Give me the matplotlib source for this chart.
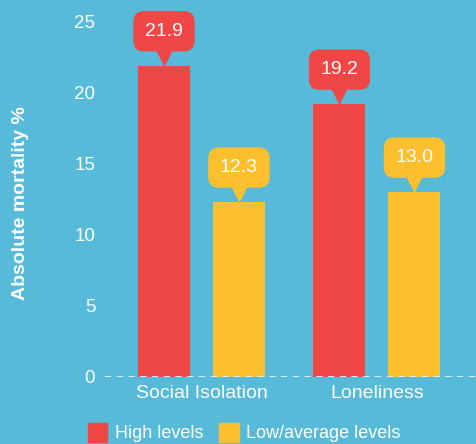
import matplotlib
matplotlib.use("Agg")
import matplotlib.pyplot as plt
from matplotlib.patches import Patch
from matplotlib.transforms import offset_copy
import numpy as np

categories = ["Social Isolation", "Loneliness"]
series_names = ["High levels", "Low/average levels"]
high_levels = [21.9, 19.2]
low_levels = [12.3, 13.0]
y_ticks = [0, 5, 10, 15, 20, 25]

BG = "#56BAD8"
RED = "#EF4646"
YEL = "#FCC02E"

plt.rcParams['font.family'] = ['Liberation Sans', 'DejaVu Sans']

fig = plt.figure(figsize=(4.77, 4.44), dpi=100, facecolor=BG)
ax = fig.add_axes([0.220, 0.151, 0.780, 0.7995])
ax.set_facecolor(BG)

x = np.arange(len(categories))
off = 0.2137
w = 0.296
series = [(high_levels, RED, -off), (low_levels, YEL, off)]
for vals, col, o in series:
    ax.bar(x + o, vals, width=w, color=col, zorder=2)
    tri_tr = offset_copy(ax.transData, fig=fig, x=0, y=6, units='points')
    for xi, v in zip(x + o, vals):
        ax.plot([xi], [v], marker='v', markersize=9.5, color=col,
                transform=tri_tr, clip_on=False, zorder=3)
        ax.annotate(f"{v:.1f}", xy=(xi, v), xytext=(0, 25),
                    textcoords='offset points', ha='center', va='center',
                    color='white', fontsize=14,
                    bbox=dict(boxstyle='round,pad=0.6,rounding_size=0.55',
                              fc=col, ec='none'),
                    annotation_clip=False, zorder=4)

ax.axhline(0, color='#E6F4FA', lw=1.3, ls=(0, (3.5, 3)), zorder=5)

ax.set_xlim(-0.55, 1.57)
ax.set_ylim(0, 25)
ax.set_yticks(y_ticks)
ax.set_yticklabels([str(t) for t in y_ticks])
ax.set_xticks(x)
ax.set_xticklabels(categories)
ax.tick_params(axis='y', length=0, pad=7, labelsize=13.5, labelcolor='white')
ax.tick_params(axis='x', length=0, pad=6, labelsize=14, labelcolor='white')
for s in ax.spines.values():
    s.set_visible(False)

ax.set_ylabel("Absolute mortality %", color='white', fontsize=14,
              fontweight='bold')
ax.yaxis.set_label_coords(-0.205, 0.49)

handles = [Patch(color=RED, label=series_names[0]),
           Patch(color=YEL, label=series_names[1])]
fig.legend(handles=handles, loc='center', bbox_to_anchor=(0.512, 0.026),
           ncol=2, frameon=False, fontsize=13, labelcolor='white',
           handlelength=1.1, handleheight=1.3, handletextpad=0.4,
           columnspacing=0.9, borderaxespad=0, borderpad=0)

fig.savefig("out.png", dpi=100, facecolor=BG)
